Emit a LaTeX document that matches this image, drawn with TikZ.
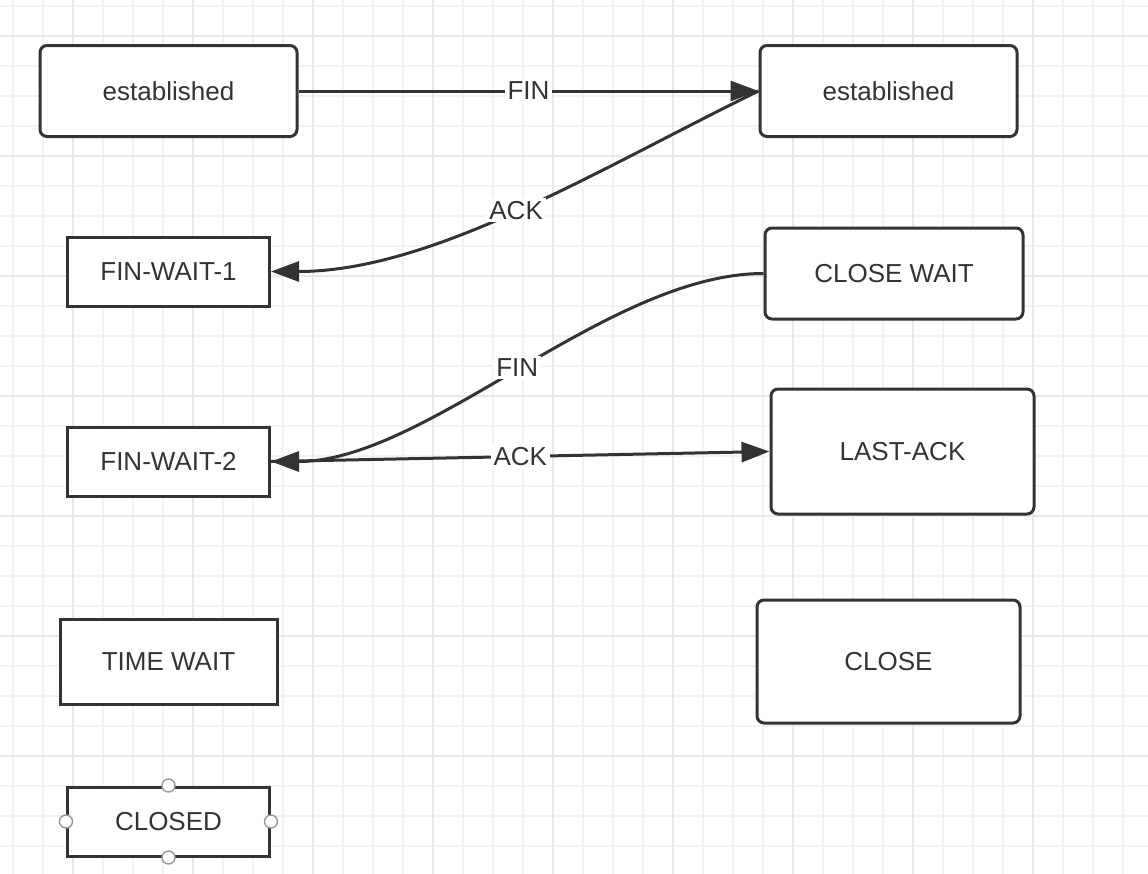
\documentclass[tikz,border=0pt]{standalone}
\usepackage{fontspec}
\setmainfont{Liberation Sans}
\usetikzlibrary{arrows.meta,positioning}
\definecolor{ink}{HTML}{333333}
\definecolor{gridminor}{HTML}{F2F2F2}
\definecolor{gridmajor}{HTML}{E8E8E8}
\tikzset{
    -{Triangle[length=14pt,width=10pt]},
    box/.style ={draw=ink, fill=white, text=ink, line width=1.5pt, inner sep=0pt,
                 font=\fontsize{13}{15}\selectfont},
    roundbox/.style ={box, rounded corners=3.5pt},
    sharpbox/.style ={box},
    lbl/.style = {fill=white, text=ink, inner sep=1.5pt, font=\fontsize{13}{15}\selectfont},
    handle/.style = {circle, draw=gray!80, fill=white, line width=0.7pt, inner sep=0pt, minimum size=6.5pt},
    minorline/.style = {-, draw=gridminor, line width=0.8pt},
    majorline/.style = {-, draw=gridmajor, line width=1pt}
}

\begin{document}
\begin{tikzpicture}[x=0.5pt,y=-0.5pt,line width=1.5pt,color=ink]
    \useasboundingbox[fill=white] (0,0) rectangle (1148,874);
    % Grid
    \foreach \x in {13,43,...,1140} \draw[minorline] (\x,0) -- (\x,874);
    \foreach \y in {6,36,...,870} \draw[minorline] (0,\y) -- (1148,\y);
    \foreach \x in {73,193,...,1140} \draw[majorline] (\x,0) -- (\x,874);
    \foreach \y in {36,156,...,870} \draw[majorline] (0,\y) -- (1148,\y);

    % Client side
    \node[roundbox, minimum width=128.5pt, minimum height=45.5pt] (estL) at (168.5,91) {established};
    \node[sharpbox, minimum width=101pt, minimum height=34.5pt] (fw1) [below=48.75pt of estL] {FIN-WAIT-1};
    \node[sharpbox, minimum width=101pt, minimum height=34.5pt] (fw2) [below=59pt of fw1] {FIN-WAIT-2};
    \node[sharpbox, minimum width=108.5pt, minimum height=42.5pt] (tw) [below=60pt of fw2] {TIME WAIT};
    \node[sharpbox, minimum width=101pt, minimum height=34.5pt] (closed) [below=40pt of tw] {CLOSED};
    \foreach \a in {north,south,east,west}
        \node[handle] (closed-\a) at (closed.\a) {};

    % Server side
    \node[roundbox, minimum width=128.5pt, minimum height=45.5pt] (estR) [right=230pt of estL] {established};
    \node[roundbox, minimum width=129pt, minimum height=45.5pt] (cw) [below=44.25pt of estR, xshift=2.75pt] {CLOSE WAIT};
    \node[roundbox, minimum width=131.5pt, minimum height=62.5pt] (la) [below=33.5pt of cw, xshift=4.25pt] {LAST-ACK};
    \node[roundbox, minimum width=131.5pt, minimum height=61.5pt] (close) [below=41.5pt of la, xshift=-7pt] {CLOSE};

    % Directed edge
    \path (estL) edge node[lbl] {FIN} (estR);
    \path (estR.west) edge[out=206, in=0, out looseness=0.87, in looseness=0.8] node[lbl] {ACK} (fw1.east);
    \path (cw.west) edge[out=180, in=0, looseness=0.76] node[lbl] {FIN} (fw2.east);
    \path (fw2.east) edge node[lbl] {ACK} (la.west);
\end{tikzpicture}
\end{document}
